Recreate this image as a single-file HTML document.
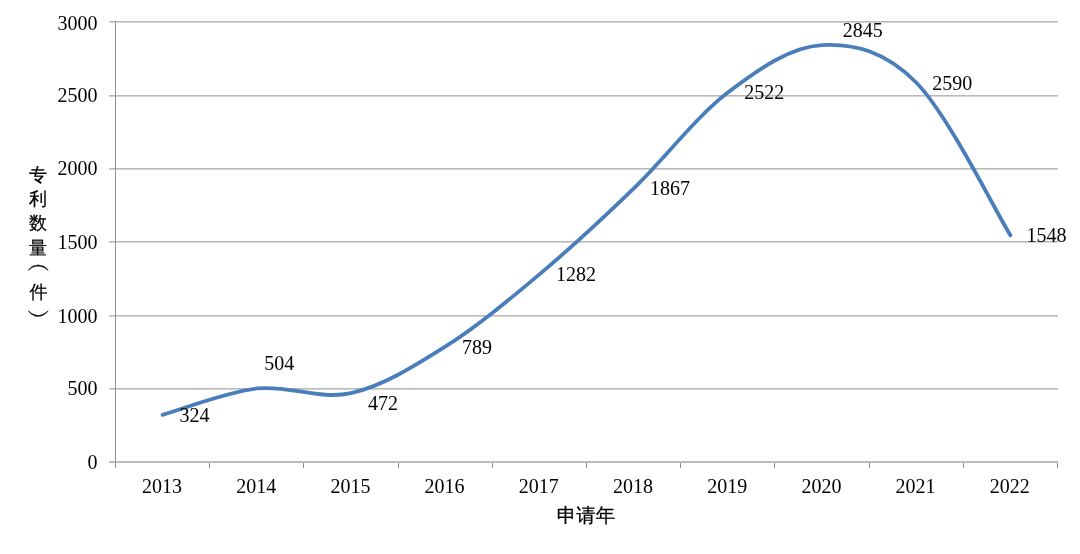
<!DOCTYPE html>
<html><head><meta charset="utf-8"><style>
html,body{margin:0;padding:0;background:#fff;width:1080px;height:554px;overflow:hidden}
svg{display:block}
text{filter:grayscale(1)}
.t{font-family:"Liberation Serif",serif;font-size:20px;fill:#000}
.c{font-family:"Liberation Sans","WenQuanYi Zen Hei",sans-serif;font-size:20px;fill:#000;stroke:#000;stroke-width:0.25px}
</style></head><body>
<svg width="1080" height="554" viewBox="0 0 1080 554">
<rect width="1080" height="554" fill="#fff"/>
<rect x="109" y="22" width="949" height="1" fill="#d4d4d4"/>
<rect x="109" y="96" width="949" height="1" fill="#d4d4d4"/>
<rect x="109" y="169" width="949" height="1" fill="#d4d4d4"/>
<rect x="109" y="242" width="949" height="1" fill="#d4d4d4"/>
<rect x="109" y="316" width="949" height="1" fill="#d4d4d4"/>
<rect x="109" y="389" width="949" height="1" fill="#d4d4d4"/>
<rect x="109" y="21" width="949" height="1" fill="#bababa"/>
<rect x="109" y="95" width="949" height="1" fill="#bababa"/>
<rect x="109" y="168" width="949" height="1" fill="#bababa"/>
<rect x="109" y="241" width="949" height="1" fill="#bababa"/>
<rect x="109" y="315" width="949" height="1" fill="#bababa"/>
<rect x="109" y="388" width="949" height="1" fill="#bababa"/>
<rect x="109" y="461" width="949" height="2" fill="#bcbcbc"/>
<rect x="209" y="463" width="1" height="5" fill="#8e8e8e"/>
<rect x="303" y="463" width="1" height="5" fill="#8e8e8e"/>
<rect x="398" y="463" width="1" height="5" fill="#8e8e8e"/>
<rect x="492" y="463" width="1" height="5" fill="#8e8e8e"/>
<rect x="586" y="463" width="1" height="5" fill="#8e8e8e"/>
<rect x="680" y="463" width="1" height="5" fill="#8e8e8e"/>
<rect x="774" y="463" width="1" height="5" fill="#8e8e8e"/>
<rect x="869" y="463" width="1" height="5" fill="#8e8e8e"/>
<rect x="963" y="463" width="1" height="5" fill="#8e8e8e"/>
<rect x="1057" y="463" width="1" height="5" fill="#8e8e8e"/>
<rect x="115" y="21" width="1" height="447" fill="#8e8e8e"/>
<text x="97.6" y="468.50" text-anchor="end" class="t">0</text>
<text x="97.6" y="395.40" text-anchor="end" class="t">500</text>
<text x="97.6" y="322.50" text-anchor="end" class="t">1000</text>
<text x="97.6" y="249.15" text-anchor="end" class="t">1500</text>
<text x="97.6" y="175.30" text-anchor="end" class="t">2000</text>
<text x="97.6" y="102.25" text-anchor="end" class="t">2500</text>
<text x="97.6" y="29.75" text-anchor="end" class="t">3000</text>
<text x="162.00" y="492.9" text-anchor="middle" class="t">2013</text>
<text x="256.20" y="492.9" text-anchor="middle" class="t">2014</text>
<text x="350.40" y="492.9" text-anchor="middle" class="t">2015</text>
<text x="444.60" y="492.9" text-anchor="middle" class="t">2016</text>
<text x="538.80" y="492.9" text-anchor="middle" class="t">2017</text>
<text x="633.00" y="492.9" text-anchor="middle" class="t">2018</text>
<text x="727.20" y="492.9" text-anchor="middle" class="t">2019</text>
<text x="821.40" y="492.9" text-anchor="middle" class="t">2020</text>
<text x="915.60" y="492.9" text-anchor="middle" class="t">2021</text>
<text x="1009.80" y="492.9" text-anchor="middle" class="t">2022</text>
<path d="M162.60,414.88 C178.30,410.48 225.40,392.10 256.80,388.48 C288.20,384.86 319.60,400.14 351.00,393.17 C382.40,386.21 413.80,366.48 445.20,346.68 C476.60,326.88 508.00,300.72 539.40,274.37 C570.80,248.02 602.20,218.88 633.60,188.57 C665.00,158.26 696.40,116.41 727.80,92.51 C759.20,68.60 790.60,46.80 822.00,45.13 C853.40,43.47 884.80,50.83 916.20,82.53 C947.60,114.24 994.70,209.89 1010.40,235.36" fill="none" stroke="#4a7ebb" stroke-width="3.80" stroke-linecap="round" stroke-linejoin="round"/>
<text x="179.50" y="421.85" class="t">324</text>
<text x="264.25" y="369.90" class="t">504</text>
<text x="368.00" y="410.10" class="t">472</text>
<text x="461.90" y="353.80" class="t">789</text>
<text x="556.05" y="280.70" class="t">1282</text>
<text x="650.10" y="194.90" class="t">1867</text>
<text x="744.30" y="99.45" class="t">2522</text>
<text x="842.70" y="37.00" class="t">2845</text>
<text x="932.30" y="89.90" class="t">2590</text>
<text x="1026.45" y="241.60" class="t">1548</text>
<text x="586.1" y="521.6" text-anchor="middle" class="c" style="font-size:19.5px">申请年</text>
<text x="38.05" y="180.90" text-anchor="middle" class="c" style="font-size:18px">专</text>
<text x="38.05" y="205.20" text-anchor="middle" class="c" style="font-size:18px">利</text>
<text x="38.00" y="228.90" text-anchor="middle" class="c" style="font-size:18px">数</text>
<text x="38.00" y="253.90" text-anchor="middle" class="c" style="font-size:18px">量</text>
<text transform="translate(39.30,271.10) scale(1.300,1.160)" x="0" y="0" text-anchor="middle" class="c" style="font-size:18px">︵</text>
<text x="38.60" y="298.10" text-anchor="middle" class="c" style="font-size:18px">件</text>
<text transform="translate(39.30,322.50) scale(1.300,1.160)" x="0" y="0" text-anchor="middle" class="c" style="font-size:18px">︶</text>
</svg>
</body></html>
